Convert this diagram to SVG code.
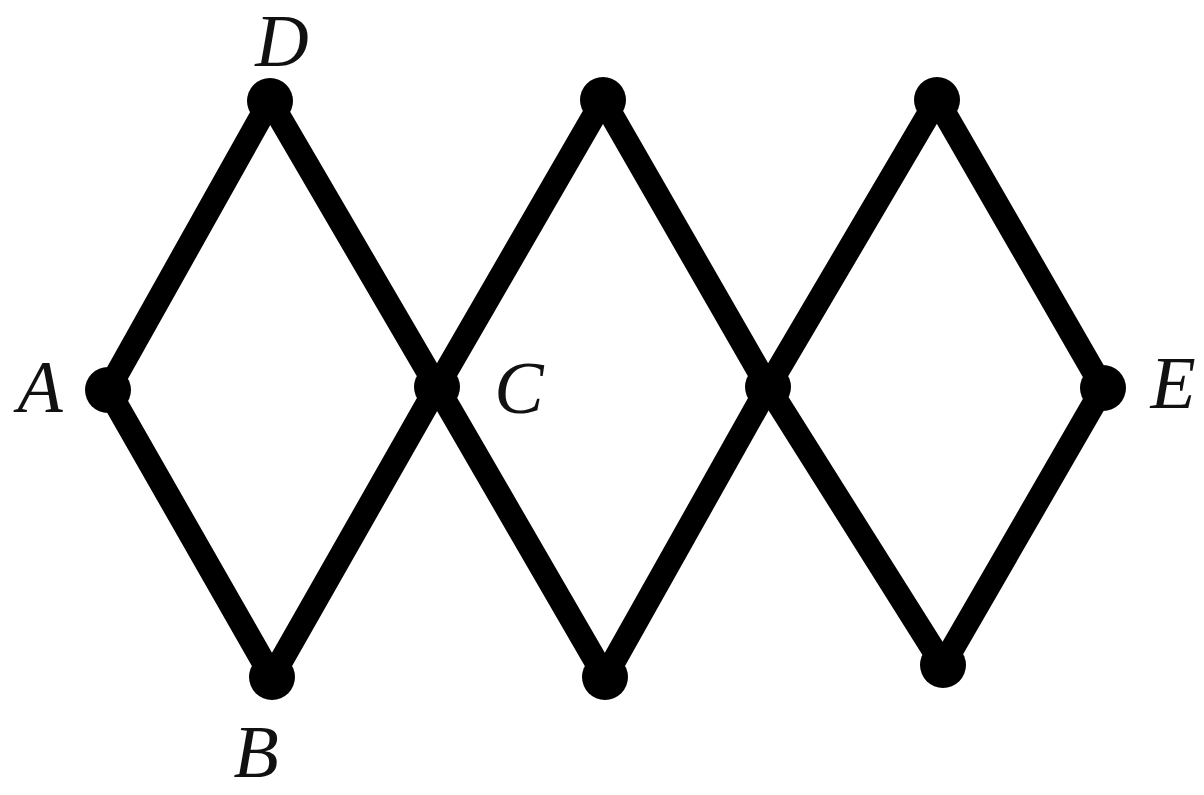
<svg xmlns="http://www.w3.org/2000/svg" width="1204" height="795" viewBox="0 0 1204 795">
<style>
.e{stroke:#000;stroke-width:24;stroke-linecap:round;fill:none}
.n{fill:#000}
.l{font-family:"Liberation Serif","Times New Roman",serif;font-style:italic;font-size:74px;fill:#111;text-anchor:middle}
</style>
<rect width="1204" height="795" fill="#fff"/>
<g id="edges">
<line class="e" x1="108" y1="390" x2="270" y2="101"/>
<line class="e" x1="270" y1="101" x2="437" y2="387"/>
<line class="e" x1="108" y1="390" x2="272" y2="677"/>
<line class="e" x1="272" y1="677" x2="437" y2="387"/>
<line class="e" x1="437" y1="387" x2="603" y2="100"/>
<line class="e" x1="603" y1="100" x2="768" y2="387"/>
<line class="e" x1="437" y1="387" x2="605" y2="677"/>
<line class="e" x1="605" y1="677" x2="768" y2="387"/>
<line class="e" x1="768" y1="387" x2="937" y2="100"/>
<line class="e" x1="937" y1="100" x2="1103" y2="388"/>
<line class="e" x1="768" y1="387" x2="943" y2="665"/>
<line class="e" x1="943" y1="665" x2="1103" y2="388"/>
</g>
<g id="node-D"><circle class="n" cx="270" cy="101" r="23"/><text class="l" x="282" y="66">D</text></g>
<g id="node-A"><circle class="n" cx="108" cy="390" r="23"/><text class="l" x="40" y="412">A</text></g>
<g id="node-B"><circle class="n" cx="272" cy="677" r="23"/><text class="l" x="256" y="777">B</text></g>
<g id="node-C"><circle class="n" cx="437" cy="387" r="23"/><text class="l" x="519" y="413">C</text></g>
<g id="node-T2"><circle class="n" cx="603" cy="100" r="23"/></g>
<g id="node-M2"><circle class="n" cx="768" cy="387" r="23"/></g>
<g id="node-B2"><circle class="n" cx="605" cy="677" r="23"/></g>
<g id="node-T3"><circle class="n" cx="937" cy="100" r="23"/></g>
<g id="node-B3"><circle class="n" cx="943" cy="665" r="23"/></g>
<g id="node-E"><circle class="n" cx="1103" cy="388" r="23"/><text class="l" x="1173" y="408">E</text></g>
</svg>
